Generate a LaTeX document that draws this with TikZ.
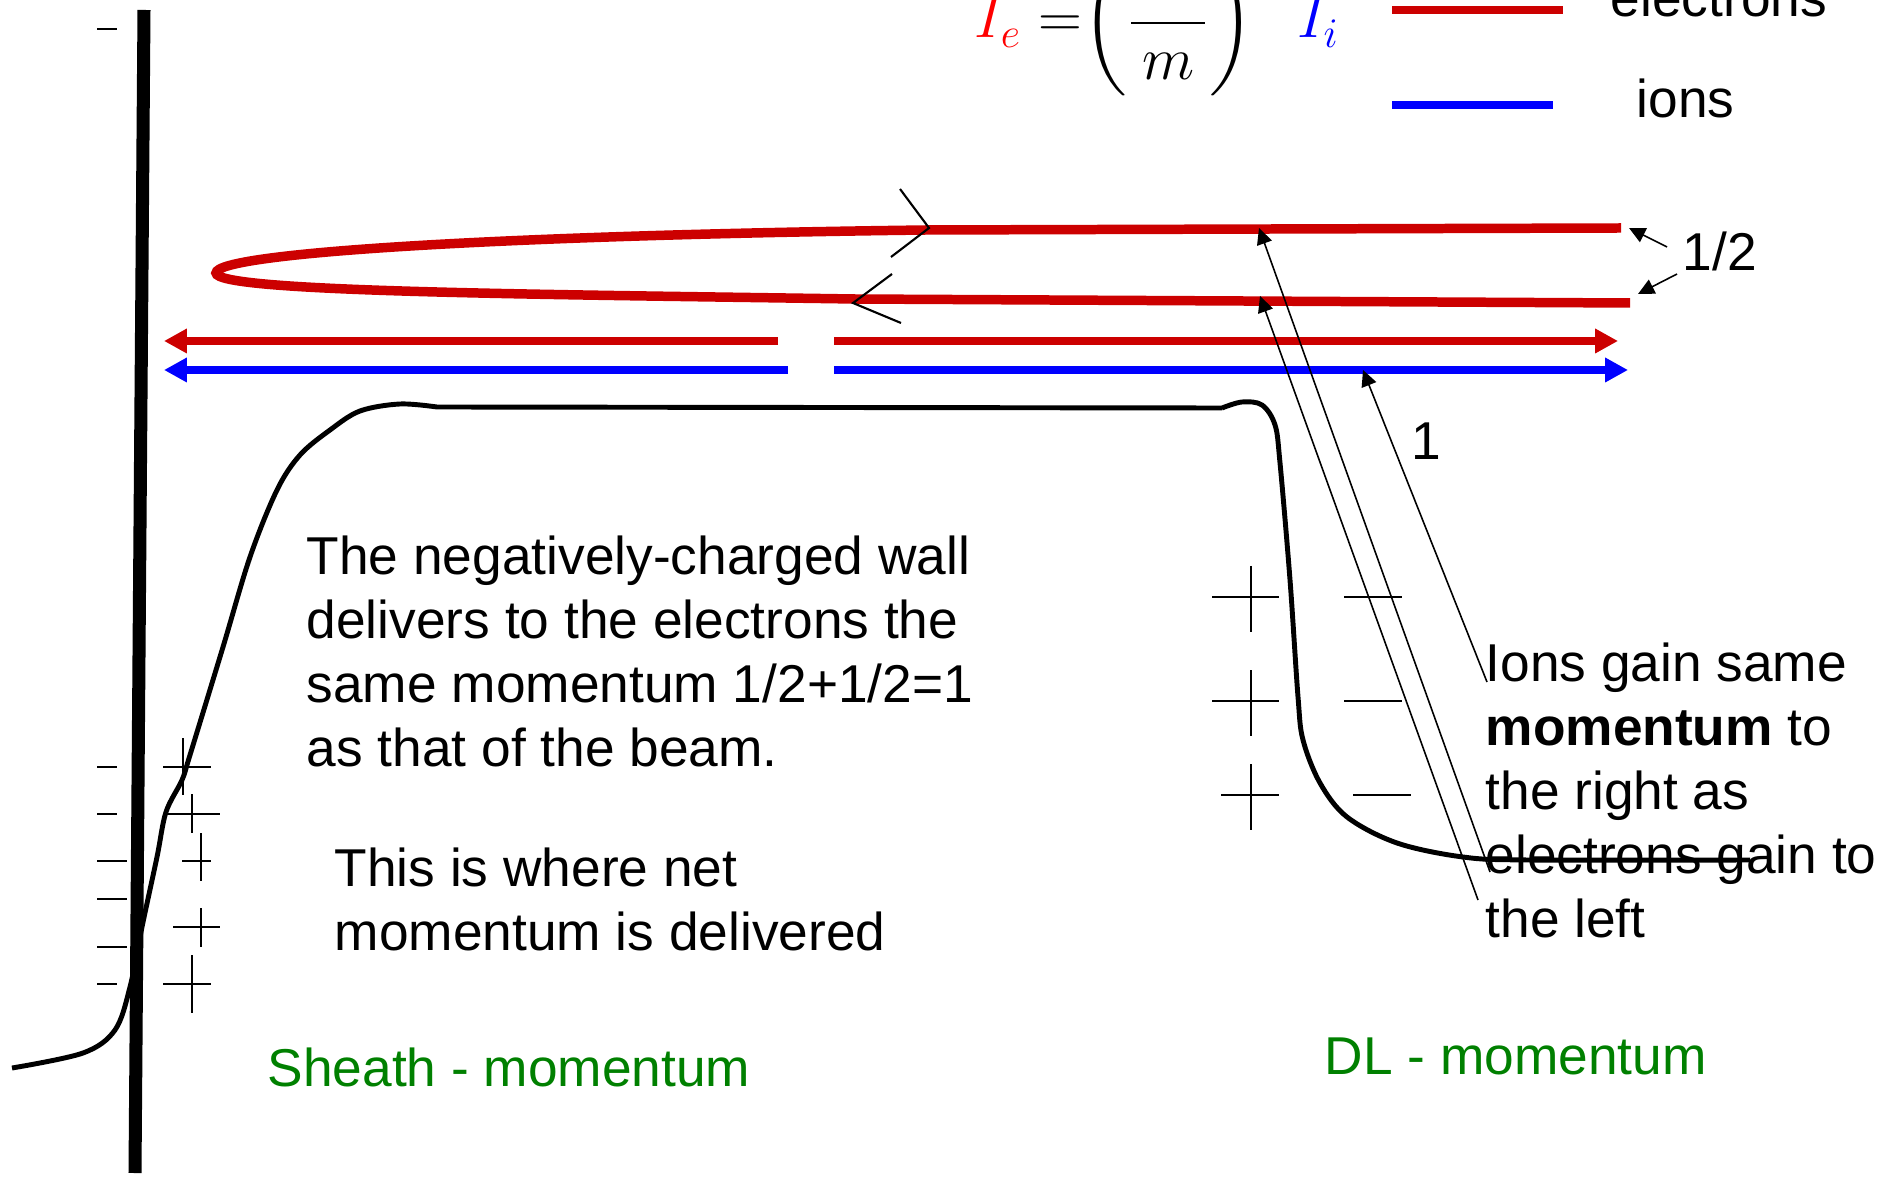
\documentclass[tikz,border=0pt]{standalone}
\usepackage{amsmath}
\usepackage{fontspec}
\setmainfont{Liberation Sans}
\usetikzlibrary{arrows.meta}
\definecolor{BeamRed}{RGB}{204,0,0}
\definecolor{IonBlue}{RGB}{0,0,255}
\definecolor{LabelGreen}{RGB}{0,128,0}

\begin{document}
\begin{tikzpicture}[
          x=0.01cm,y=-0.01cm,
          txt/.style={inner sep=0pt,align=left,font=\fontsize{15.15}{18.2}\selectfont,text=black},
          lbl/.style={txt,anchor=base west},
          flow/.style={line width=2.3pt},
          tip/.style={-{Triangle[length=6.5pt,width=6.6pt]}},
          ptr/.style={-{Triangle[length=4.6pt,width=4.4pt]},line width=0.45pt},
          chg/.style={line width=0.55pt},
          pot/.style={line width=1.4pt,line join=round}
        ]
          \useasboundingbox (0,0) rectangle (1886,1180);
          \clip (0,0) rectangle (1886,1180);

          % formula and legend
          \node(eqn)[inner sep=0pt,anchor=base west,font=\fontsize{17}{20}\selectfont] at (974,38)
            {$\color{red}I_e\color{black}=\mkern-5mu\left(\dfrac{\phantom{M_i}}{m}\right)^{\hspace{9pt}}\color{blue}I_i$};
          \draw[flow,BeamRed] (1392,10) -- (1563,10);
          \draw[flow,IonBlue] (1392,105) -- (1553,105);
          \node(lblE)[lbl] at (1610,17){electrons};
          \node(lblI)[lbl] at (1636,118){ions};

          % wall
          \draw[line width=3.7pt] (144,10) -- (135,1173);
          \draw[chg] (97,29) -- (117,29);
          \foreach \y/\xb in {767/117,814/117,861/127,899/127,947/127,984/117}
            \draw[chg] (97,\y) -- (\xb,\y);
          \foreach \cx/\cy/\xa/\xb/\ya/\yb in {183/767/163/211/738/795,192/814/168/220/794/833,
                     201/861/182/211/833/881,201/927/173/220/908/947,192/984/163/211/955/1013}
            \draw[chg] (\xa,\cy) -- (\xb,\cy) (\cx,\ya) -- (\cx,\yb);

          % double layer charges
          \foreach \y/\xa in {597/1212,701/1212,795/1221}{
            \draw[chg] (\xa,\y) -- (1279,\y) (1251,\y-31) -- (1251,\y+35);
          }
          \foreach \y/\xa in {597/1344,701/1344,795/1353}
            \draw[chg] (\xa,\y) -- (\xa+58,\y);

          % potential
          \draw[pot] plot[smooth,tension=0.55] coordinates {(12,1068) (83,1053) (115,1030) (130,987)
              (142,927) (157,857) (166,812) (182,780) (190,755) (223,647) (250,557) (277,490)
              (300,455) (330,430) (360,411) (400,404) (437,407)}
            -- (1222,408)
            plot[smooth,tension=0.55] coordinates {(1222,408) (1242,402) (1262,405) (1275,425)
              (1280,463) (1290,580) (1298,697) (1303,740) (1320,783) (1347,817) (1397,843)
              (1463,857) (1530,860) (1750,860)};

          % reflected electrons
          \draw[line width=2.7pt,BeamRed] (1621,228) -- (926,230)
            .. controls (520,235) and (216,252) .. (216,273)
            .. controls (216,292) and (520,294) .. (854,299) -- (1630,303);
          \draw[line width=0.6pt] (900,189) -- (929,228) -- (891,257);
          \draw[line width=0.6pt] (892,274) -- (853,303) -- (901,323);

          % beam
          \draw[flow,tip,BeamRed] (778,341) -- (164,341);
          \draw[flow,tip,IonBlue] (788,370) -- (164,370);
          \draw[flow,tip,BeamRed] (834,341) -- (1618,341);
          \draw[flow,tip,IonBlue] (834,370) -- (1628,370);

          % labels
          \node(half)[lbl] at (1682,271){1/2};
          \node(one)[lbl] at (1411,460){1};
          \node(walltxt)[txt,anchor=north west] at (306,535)
            {The negatively-charged wall\\delivers to the electrons the\\same momentum 1/2+1/2=1\\as that of the beam.};
          \node(nettxt)[txt,anchor=north west] at (334,847)
            {This is where net\\momentum is delivered};
          \node(ionstxt)[txt,anchor=north west] at (1485,642)
            {Ions gain same\\\textbf{momentum} to\\the right as\\electrons gain to\\the left};
          \node(sheathlbl)[lbl,text=LabelGreen] at (267,1086){Sheath - momentum};
          \node(dllbl)[lbl,text=LabelGreen] at (1324,1074){DL - momentum};

          % pointers
          \coordinate(halfA) at (1667,247);
          \coordinate(halfB) at (1677,274);
          \coordinate(upEnd) at (1629,228);
          \coordinate(loEnd) at (1638,294);
          \draw[ptr] (halfA) -- (upEnd);
          \draw[ptr] (halfB) -- (loEnd);
          \coordinate(upTip) at (1259,228);
          \coordinate(loTip) at (1260,296);
          \coordinate(ionTip) at (1363,370);
          \coordinate(ionsA) at (1490,872);
          \coordinate(ionsB) at (1478,900);
          \coordinate(ionsC) at (1487,682);
          \draw[ptr] (ionsA) -- (upTip);
          \draw[ptr] (ionsB) -- (loTip);
          \draw[ptr] (ionsC) -- (ionTip);
        \end{tikzpicture}
\end{document}
